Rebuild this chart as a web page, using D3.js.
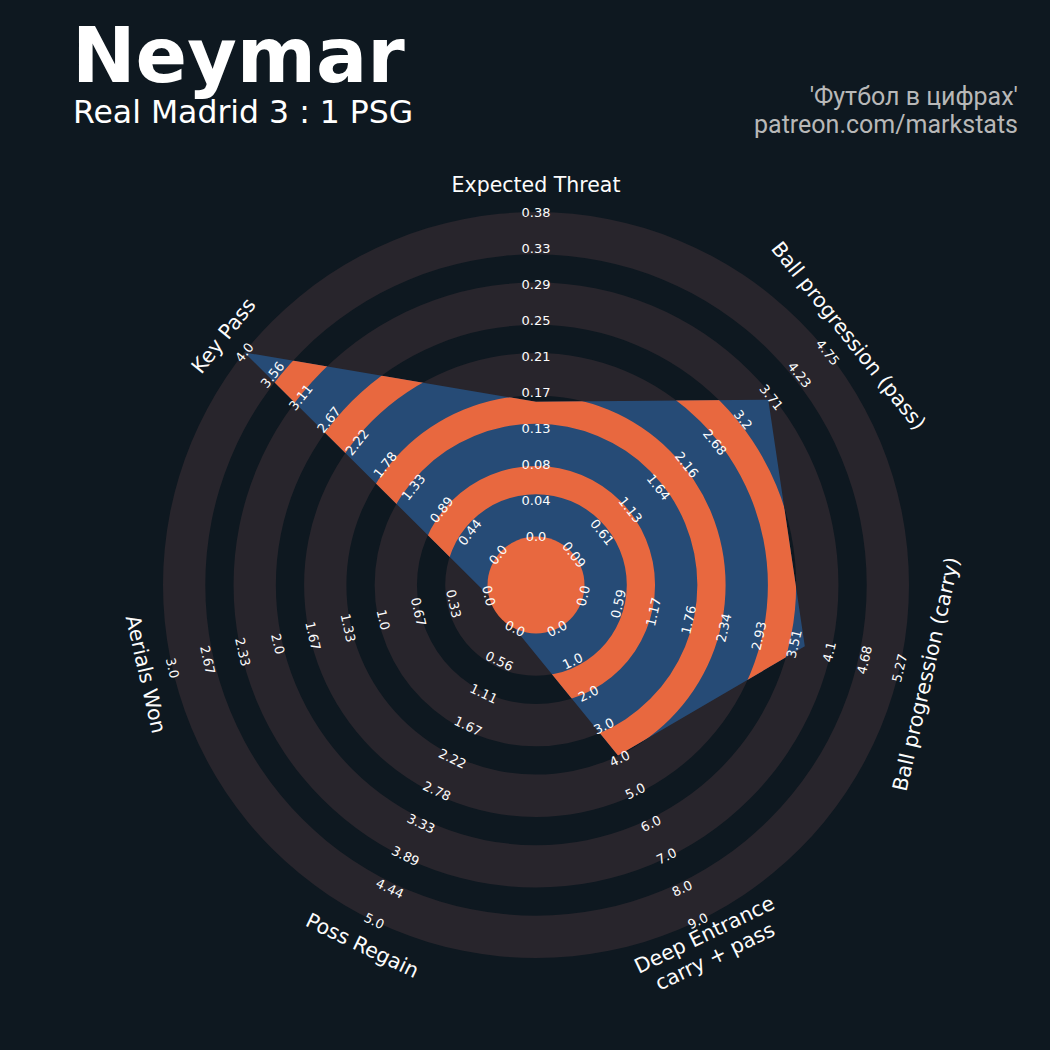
<!DOCTYPE html>
<html>
<head>
<meta charset="utf-8">
<script src="https://cdn.jsdelivr.net/npm/d3@7"></script>
<style>
  html, body { margin: 0; padding: 0; background: #0e1820; }
  svg { display: block; }
</style>
</head>
<body>
<svg id="chart" width="1050" height="1050"></svg>
<script>
// ---- data ----
const params = ["Expected Threat", "Ball progression (pass)", "Ball progression (carry)",
                "Deep Entrance\ncarry + pass", "Poss Regain", "Aerials Won", "Key Pass"];
const lows   = [0, 0.09, 0, 0, 0, 0, 0];
const highs  = [0.376, 4.75, 5.27, 9, 5, 3, 4];
const values = [0.156, 3.66, 3.69, 3.9, 0, 0, 4.0];

const tickLabels = [
  ["0.0", "0.04", "0.08", "0.13", "0.17", "0.21", "0.25", "0.29", "0.33", "0.38"],
  ["0.09", "0.61", "1.13", "1.64", "2.16", "2.68", "3.2", "3.71", "4.23", "4.75"],
  ["0.0", "0.59", "1.17", "1.76", "2.34", "2.93", "3.51", "4.1", "4.68", "5.27"],
  ["0.0", "1.0", "2.0", "3.0", "4.0", "5.0", "6.0", "7.0", "8.0", "9.0"],
  ["0.0", "0.56", "1.11", "1.67", "2.22", "2.78", "3.33", "3.89", "4.44", "5.0"],
  ["0.0", "0.33", "0.67", "1.0", "1.33", "1.67", "2.0", "2.33", "2.67", "3.0"],
  ["0.0", "0.44", "0.89", "1.33", "1.78", "2.22", "2.67", "3.11", "3.56", "4.0"]
];

const title = "Neymar";
const subtitle = "Real Madrid 3 : 1 PSG";
const creditLines = ["'Футбол в цифрах'", "patreon.com/markstats"];

// ---- layout ----
const W = 1050, H = 1050;
const cx = 536, cy = 585;
const rCenter = 48.5, rOuter = 373;
const grayW = 42.3;
const pairW = (rOuter - rCenter - grayW) / 4;   // ring + gap
const numRings = 5;

const colors = {
  bg: "#0e1820",
  ring: "#28252c",
  radar: "#264b76",
  radarRings: "#e8683f",
  center: "#e8683f",
  text: "#fcfcfc",
  credit: "#b8b8b8"
};

const svg = d3.select("#chart");
svg.append("rect").attr("width", W).attr("height", H).attr("fill", colors.bg);

const g = svg.append("g").attr("transform", `translate(${cx},${cy})`);

const n = params.length;
const angle = d3.scaleLinear().domain([0, n]).range([0, 2 * Math.PI]);
const rScales = params.map((p, i) => d3.scaleLinear().domain([lows[i], highs[i]]).range([rCenter, rOuter]));

const arc = d3.arc().startAngle(0).endAngle(2 * Math.PI);

// background rings
const ringBands = d3.range(numRings).map(k => [rCenter + k * pairW, rCenter + k * pairW + grayW]);
const gapBands = d3.range(numRings - 1).map(k => [rCenter + k * pairW + grayW, rCenter + (k + 1) * pairW]);

g.selectAll("path.ring").data(ringBands).join("path")
  .attr("class", "ring")
  .attr("d", d => arc({innerRadius: d[0], outerRadius: d[1]}))
  .attr("fill", colors.ring);

// radar polygon
const radial = d3.lineRadial()
  .angle((d, i) => angle(i))
  .radius((d, i) => rScales[i](d))
  .curve(d3.curveLinearClosed);

const polyPath = radial(values);

svg.append("defs").append("clipPath").attr("id", "radar-clip")
  .append("path").attr("d", polyPath).attr("transform", `translate(0,0)`);

g.append("path").attr("d", polyPath).attr("fill", colors.radar);

g.append("g").attr("clip-path", "url(#radar-clip)")
  .selectAll("path").data(gapBands).join("path")
  .attr("d", d => arc({innerRadius: d[0], outerRadius: d[1]}))
  .attr("fill", colors.radarRings);

// center circle
g.append("circle").attr("r", rCenter).attr("fill", colors.center);

// rotation that keeps text readable along each axis
function textRotation(a) {
  let deg = a * 180 / Math.PI;
  if (deg > 90 && deg < 270) deg -= 180;
  else if (deg >= 270) deg -= 360;
  return deg;
}

// range labels
params.forEach((p, i) => {
  const a = angle(i);
  const rot = textRotation(a);
  const ticks = tickLabels[i];
  const tickR = d3.scaleLinear().domain([0, ticks.length - 1]).range([rCenter, rOuter]);
  g.append("g").selectAll("text").data(ticks).join("text")
    .attr("transform", (d, j) => {
      const r = tickR(j);
      return `translate(${r * Math.sin(a)},${-r * Math.cos(a)}) rotate(${rot})`;
    })
    .attr("text-anchor", "middle")
    .attr("dominant-baseline", "central")
    .attr("font-family", "DejaVu Sans")
    .attr("font-size", 13)
    .attr("fill", colors.text)
    .text(d => d);
});

// parameter labels
const labelR = 400;
const lineH = 24;
params.forEach((p, i) => {
  const a = angle(i);
  const rot = textRotation(a);
  const lines = p.split("\n");
  const t = g.append("text")
    .attr("transform", `translate(${labelR * Math.sin(a)},${-labelR * Math.cos(a)}) rotate(${rot})`)
    .attr("text-anchor", "middle")
    .attr("font-family", "DejaVu Sans")
    .attr("font-size", 20.5)
    .attr("fill", colors.text);
  lines.forEach((l, j) => {
    t.append("tspan")
      .attr("x", 0)
      .attr("y", (j - (lines.length - 1) / 2) * lineH)
      .attr("dy", "0.35em")
      .text(l);
  });
});

// titles
svg.append("text").attr("x", 72).attr("y", 82)
  .attr("font-family", "DejaVu Sans").attr("font-weight", "bold")
  .attr("font-size", 76).attr("fill", "#ffffff").text(title);

svg.append("text").attr("x", 73).attr("y", 123)
  .attr("font-family", "DejaVu Sans").attr("font-size", 31.5)
  .attr("fill", "#ffffff").text(subtitle);

svg.append("g").selectAll("text").data(creditLines).join("text")
  .attr("x", 1018).attr("y", (d, i) => 105 + i * 28)
  .attr("text-anchor", "end")
  .attr("font-family", "Roboto").attr("font-size", 25)
  .attr("fill", colors.credit).text(d => d);
</script>
</body>
</html>
